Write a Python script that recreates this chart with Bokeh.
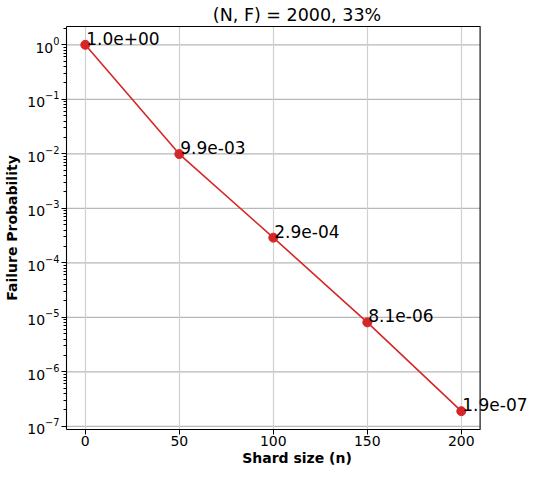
import math
from bokeh.plotting import figure
from bokeh.models import (ColumnDataSource, Range1d, FixedTicker, LinearAxis, Span)
from bokeh.core.properties import value
from bokeh.embed import file_html
from bokeh.resources import INLINE

shard_sizes = [0, 50, 100, 150, 200]
failure_prob = [1.0e+00, 9.9e-03, 2.9e-04, 8.1e-06, 1.9e-07]
point_labels = ["1.0e+00", "9.9e-03", "2.9e-04", "8.1e-06", "1.9e-07"]
x_ticks = [0, 50, 100, 150, 200]
y_ticks = [1e-7, 1e-6, 1e-5, 1e-4, 1e-3, 1e-2, 1e-1, 1e0]
title_text = "(N, F) = 2000, 33%"
x_label = "Shard size (n)"
y_label = "Failure Probability"

FONT = "DejaVu Sans"

# axis limits like matplotlib's 5% margins
x_lo = min(shard_sizes) - 0.05 * (max(shard_sizes) - min(shard_sizes))
x_hi = max(shard_sizes) + 0.05 * (max(shard_sizes) - min(shard_sizes))
lo = math.log10(min(failure_prob))
hi = math.log10(max(failure_prob))
span = hi - lo
y_lo = 10 ** (lo - 0.05 * span)
y_hi = 10 ** (hi + 0.05 * span)

minor_ticks = [m * d for d in y_ticks for m in range(2, 10) if y_lo <= m * d <= y_hi]

W, H = 527, 469
LEFT, TOP, BOTTOM = 66, 24, 40
px_per_unit = 1.88
frame_w = W - LEFT
x_view_hi = x_lo + frame_w / px_per_unit   # room on the right for the last annotation

p = figure(width=W, height=H, output_backend="svg", toolbar_location=None,
           y_axis_type="log",
           x_range=Range1d(x_lo, x_view_hi),
           y_range=Range1d(y_lo, y_hi),
           min_border_left=LEFT, min_border_right=0, min_border_top=TOP, min_border_bottom=BOTTOM)

p.title.text = title_text
p.title.align = "center"
p.title.text_font = FONT
p.title.text_font_size = "17.5px"
p.title.text_font_style = "normal"
p.title.text_color = "black"
p.title.standoff = 4
p.title.offset = -(frame_w - (x_hi - x_lo) * px_per_unit) / 2

p.outline_line_color = None
p.background_fill_color = "white"
p.border_fill_color = "white"

p.xaxis.ticker = FixedTicker(ticks=x_ticks)
p.xaxis.axis_label = x_label
p.xaxis.bounds = (x_lo, x_hi)
p.yaxis.axis_label = y_label
p.yaxis.ticker = FixedTicker(ticks=y_ticks, minor_ticks=minor_ticks)
for ax in (p.xaxis[0], p.yaxis[0]):
    ax.axis_label_text_font = FONT
    ax.axis_label_text_font_size = "14px"
    ax.axis_label_text_font_style = "bold"
    ax.axis_label_text_color = "black"
    ax.major_label_text_font = FONT
    ax.major_label_text_font_size = "14px"
    ax.major_label_text_color = "black"
    ax.axis_line_color = "black"
    ax.axis_line_width = 1.1
    ax.major_tick_line_color = "black"
    ax.major_tick_in = 0
    ax.major_tick_out = 5
    ax.minor_tick_line_color = "black"
    ax.minor_tick_in = 0
    ax.minor_tick_out = 3
    ax.major_label_standoff = 2
    ax.axis_label_standoff = 4
p.xaxis.minor_tick_line_color = None
p.xaxis.major_label_standoff = 1
p.xaxis.axis_label_standoff = 1

# top spine
top = LinearAxis(ticker=FixedTicker(ticks=[]), bounds=(x_lo, x_hi), axis_line_color="black",
                 axis_line_width=1.1, major_label_text_font_size="0px",
                 major_tick_line_color=None, minor_tick_line_color=None, major_label_standoff=0)
p.add_layout(top, "above")
# right spine
p.add_layout(Span(location=x_hi, dimension="height", line_color="black", line_width=1.1))

p.xgrid.grid_line_color = "#d0d0d0"
p.xgrid.grid_line_width = 1.2
p.ygrid.grid_line_color = None
p.ygrid.minor_grid_line_color = None

# horizontal grid lines limited to the axes box
gsrc = ColumnDataSource(data=dict(y=y_ticks, x0=[x_lo] * len(y_ticks), x1=[x_hi] * len(y_ticks)))
p.segment(x0="x0", x1="x1", y0="y", y1="y", source=gsrc, line_color="#b8b8b8",
          line_width=1.2, level="underlay")

src = ColumnDataSource(data=dict(x=shard_sizes, y=failure_prob, label=point_labels))
p.line("x", "y", source=src, line_color="#d62728", line_width=1.6)
p.scatter("x", "y", source=src, size=9, fill_color="#d62728", line_color="#d62728")
p.text("x", "y", text="label", source=src, text_font=value(FONT), text_font_size="17px",
       text_color="black", text_align="left", text_baseline="bottom", x_offset=1, y_offset=0)

open("out.html", "w").write(file_html(p, INLINE))
